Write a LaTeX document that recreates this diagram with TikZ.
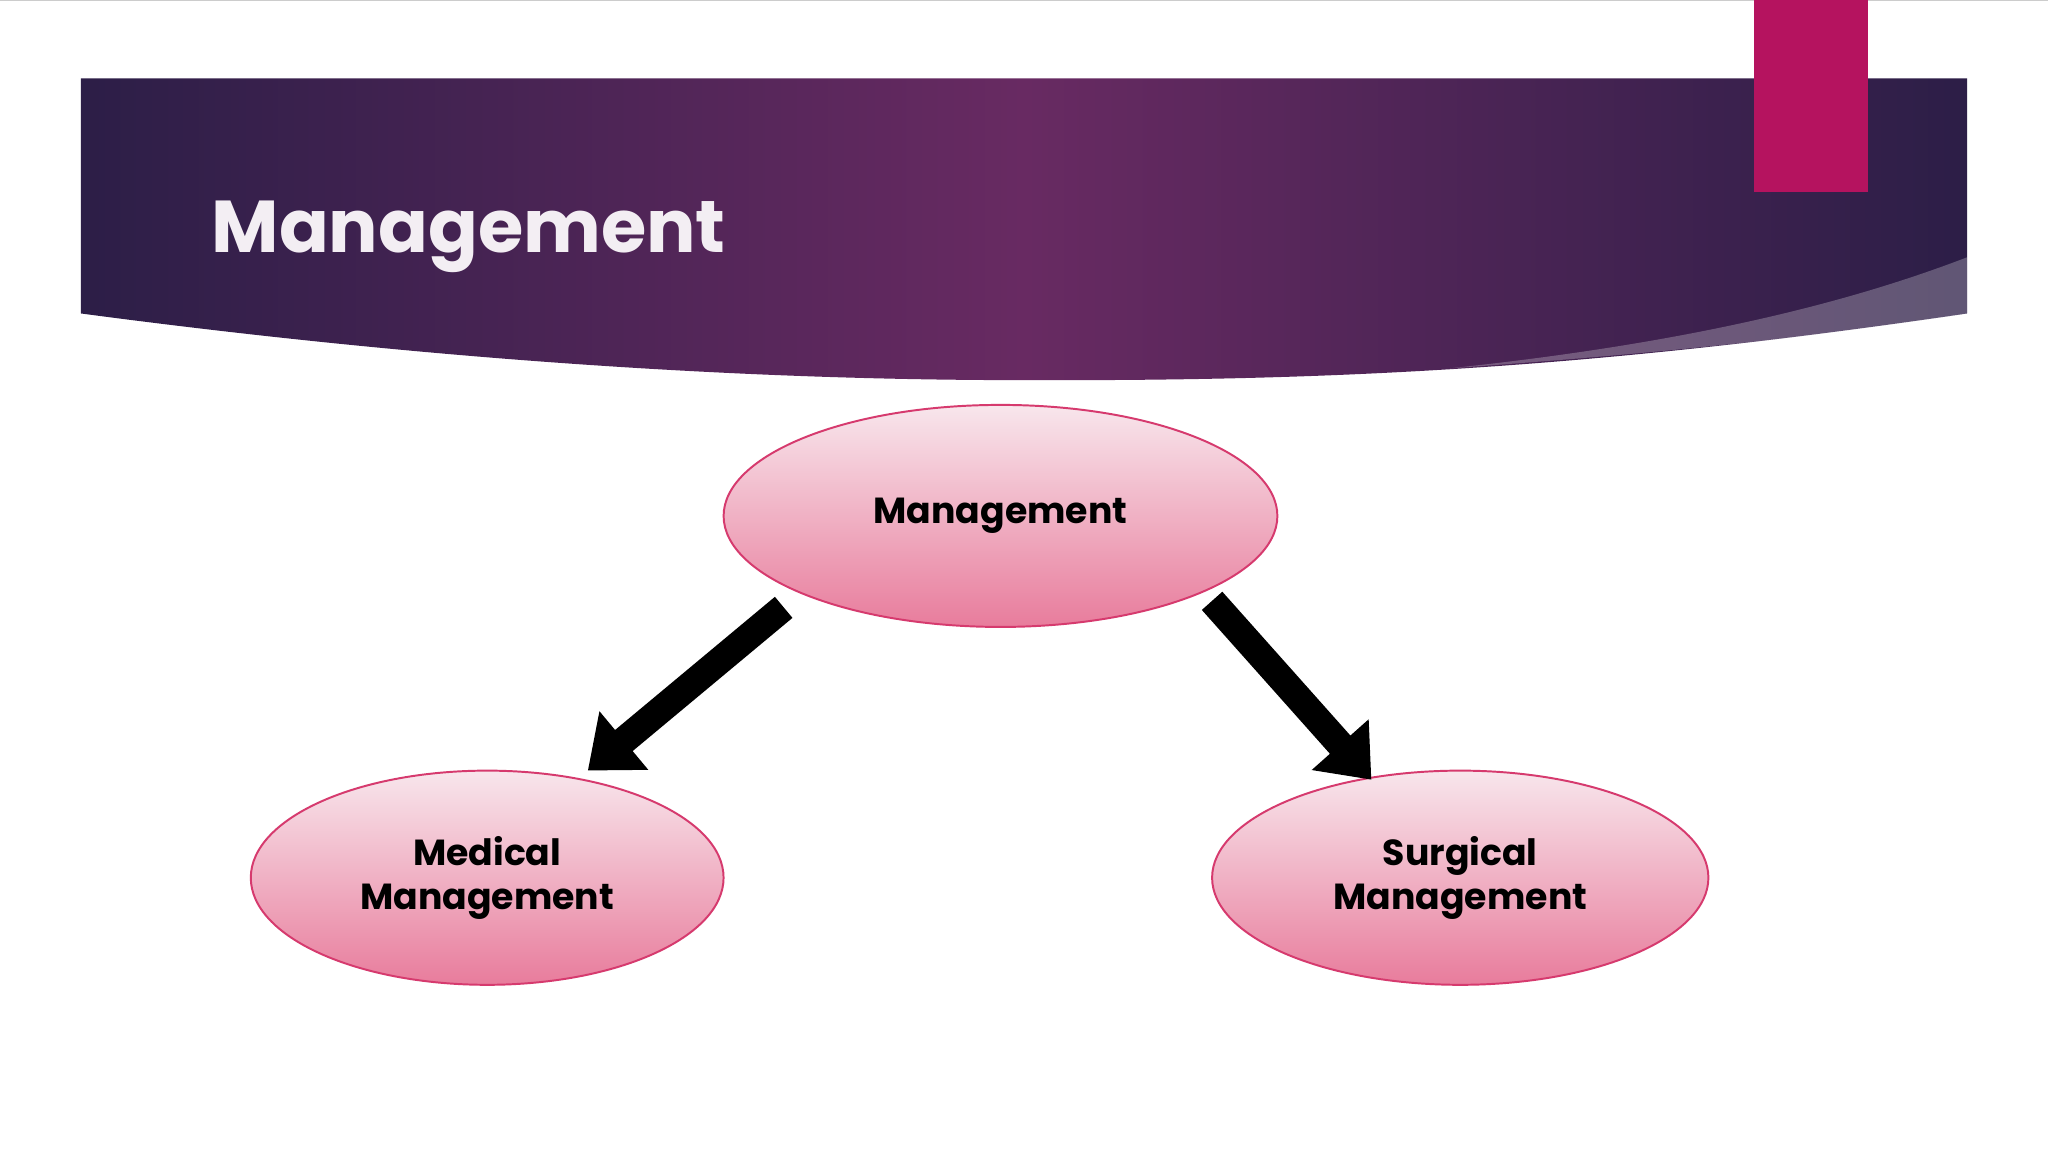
\documentclass[tikz,border=0pt]{standalone}
\usepackage{fontspec}
\setmainfont{Poppins}
\usetikzlibrary{arrows.meta}
\definecolor{pdark}{HTML}{2C1E47}
\definecolor{pmid}{HTML}{682A62}
\definecolor{mag}{HTML}{B5135F}
\definecolor{etop}{HTML}{F8E6EC}
\definecolor{ebot}{HTML}{E87C9C}
\definecolor{eline}{HTML}{D63A6E}
\tikzset{
  x=0.1cm,y=-0.1cm,
  oval/.style={ellipse,draw=eline,line width=1.5mm,top color=etop,bottom color=ebot,
    font=\fontsize{79}{96}\selectfont\bfseries,align=center,inner sep=0pt},
  blk/.style={line width=2.1cm,-{Triangle[length=3.6cm,width=5.6cm]}}
}
\usetikzlibrary{shapes.geometric}
\begin{document}
\begin{tikzpicture}
\useasboundingbox (0,0) rectangle (1568,882);
\fill[white] (0,0) rectangle (1568,882);
\draw[gray!40,line width=1mm] (0,0.5) -- (1568,0.5);
% banner
\shade[left color=pdark,right color=pdark,middle color=pmid]
  (62,60) -- (1506,60) -- (1506,240) .. controls (1200,285) and (1000,292) .. (766,291)
  .. controls (500,290) and (250,265) .. (62,240) -- cycle;
\fill[white,opacity=0.25] (1110,282) .. controls (1300,262) and (1420,230) .. (1506,197) -- (1506,240) .. controls (1380,260) and (1250,272) .. (1110,282) -- cycle;
\fill[mag] (1343,0) rectangle (1430,147);
\node[anchor=base west,text=white!92!pmid,font=\fontsize{160}{190}\selectfont\bfseries,inner sep=0pt] (title) at (162,193) {Management};
% ellipses
\node[oval,minimum width=42.4cm,minimum height=17cm] (m) at (766,395) {Management};
\node[oval,minimum width=36.2cm,minimum height=16.4cm] (med) at (373,672) {Medical\\Management};
\node[oval,minimum width=38cm,minimum height=16.4cm] (sur) at (1118,672) {Surgical\\Management};
% arrows
\coordinate (a1) at (600,465); \coordinate (b1) at (450,590);
\coordinate (a2) at (928,460); \coordinate (b2) at (1050,597);
\draw[blk] (a1) -- (b1);
\draw[blk] (a2) -- (b2);
\end{tikzpicture}
\end{document}
